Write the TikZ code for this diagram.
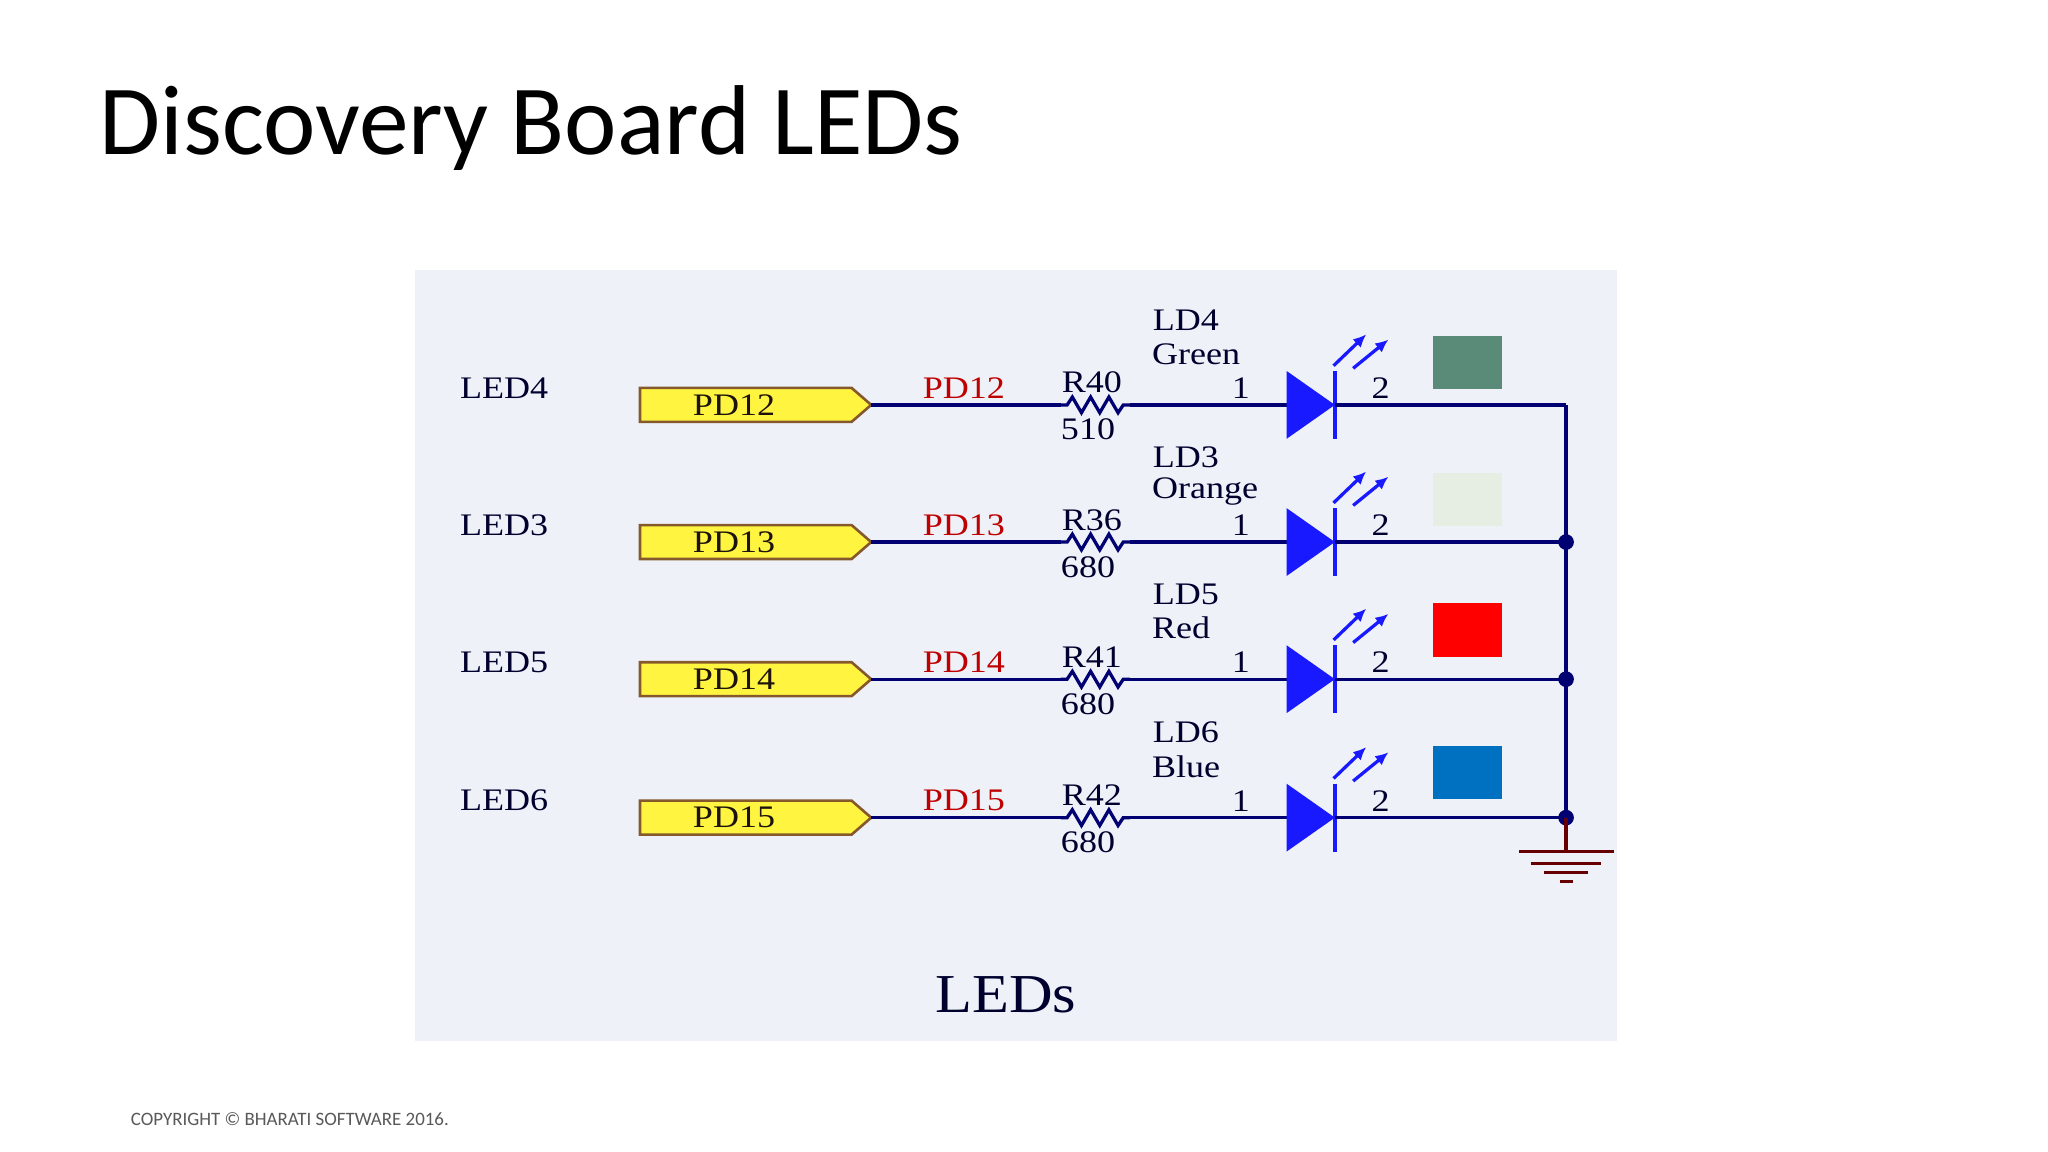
\documentclass[tikz,border=0pt]{standalone}
\usepackage{fontspec}
\usetikzlibrary{arrows.meta}
\setmainfont{Liberation Serif}
\newfontfamily\titlefont{Carlito}
\definecolor{ledgreen}{HTML}{5A8A78}
\definecolor{ledorange}{HTML}{E6EDE2}
\definecolor{ledblue}{HTML}{0070C0}
\definecolor{panel}{HTML}{EEF1F8}
\begin{document}
\begin{tikzpicture}[x=1pt,y=-1pt,
  sch/.style={font=\fontsize{24}{24}\selectfont,xscale=1.15},
  navy/.style={text=black!70!blue!60!black},
  pdred/.style={text=red!75!black},
  wire/.style={draw=blue!45!black,line width=2.5pt},
  tag/.style={draw=brown!70!black,fill=yellow!75,line width=2pt},
  dot/.style={circle,fill=blue!45!black,inner sep=0pt,minimum size=12pt},
  diode/.style={fill=blue!90!white,draw=none},
  lightarr/.style={draw=blue!90!white,line width=2.5pt,-{Latex[length=10pt,width=9pt]}}
]
\useasboundingbox (0,0) rectangle (1568,882);
\fill[white] (0,0) rectangle (1568,882);
\fill[panel] (318,207) rectangle (1238,797);
\node[anchor=base west,inner sep=0pt,font=\titlefont\fontsize{76}{76}\selectfont] (title) at (76,118) {Discovery Board LEDs};
\node[anchor=base west,inner sep=0pt,text=black!65,font=\titlefont\fontsize{14.5}{14.5}\selectfont] (copy) at (100,862) {COPYRIGHT © BHARATI SOFTWARE 2016.};
\node[font=\fontsize{42}{42}\selectfont,xscale=1.1,text=black!70!blue!60!black] (leds) at (770,762) {LEDs};
\coordinate (bustop) at (1199,310);
\foreach \y/\led/\pd/\r/\v/\ld/\col [count=\i] in
  {310/LED4/PD12/R40/510/LD4/Green,
   415/LED3/PD13/R36/680/LD3/Orange,
   520/LED5/PD14/R41/680/LD5/Red,
   626/LED6/PD15/R42/680/LD6/Blue}{
  \node[sch,navy] (led\i) at (386,\y-13) {\led};
  \draw[tag] (490,\y-13) -- (652,\y-13) -- (667,\y) -- (652,\y+13) -- (490,\y+13) -- cycle;
  \node[sch,text=black!85!brown] (tag\i) at (562,\y) {\pd};
  \coordinate (tip\i) at (667,\y);
  \node[sch,pdred] (pd\i) at (738,\y-13) {\pd};
  \node[sch,navy] (r\i) at (836,\y-17) {\r};
  \node[sch,navy] (v\i) at (833,\y+19) {\v};
  \node[sch,navy] (ld\i) at (908,\y-65) {\ld};
  \node[sch,navy,anchor=west] (c\i) at (878,\y-39) {\col};
  \node[sch,navy] (one\i) at (950,\y-13) {1};
  \node[sch,navy] (two\i) at (1057,\y-13) {2};
  \coordinate (ra\i) at (812,\y);
  \coordinate (rb\i) at (865,\y);
  \coordinate (da\i) at (985,\y);
  \coordinate (dk\i) at (1022,\y);
  \coordinate (bus\i) at (1199,\y);
  \draw[wire] (tip\i) -- (ra\i);
  \draw[wire] (ra\i) -- ++(5,0) -- ++(4,-6) -- ++(7,12) -- ++(7,-12) -- ++(7,12) -- ++(7,-12) -- ++(7,12) -- ++(4,-6) -- (rb\i);
  \draw[wire] (rb\i) -- (da\i);
  \fill[diode] (985,\y-26) -- (1022,\y) -- (985,\y+26) -- cycle;
  \draw[blue!90!white,line width=3pt] (1022,\y-26) -- (1022,\y+26);
  \draw[wire] (dk\i) -- (bus\i);
  \draw[lightarr] (1021,\y-30) -- (1046,\y-54);
  \draw[lightarr] (1036,\y-28) -- (1063,\y-50);
}
\fill[ledgreen] (1097,257) rectangle (1150,298);
\fill[ledorange] (1097,362) rectangle (1150,403);
\fill[red] (1097,462) rectangle (1150,503);
\fill[ledblue] (1097,571) rectangle (1150,612);
\coordinate (gnd) at (1199,652);
\draw[wire] (bustop) -- (bus4);
\node[dot] at (bus2) {};
\node[dot] at (bus3) {};
\node[dot] at (bus4) {};
\draw[red!40!black,line width=2.5pt] (bus4) -- (gnd);
\draw[red!40!black,line width=2.5pt] (1163,652) -- (1236,652) (1172,661) -- (1226,661) (1182,668) -- (1216,668) (1194,675) -- (1204,675);
\end{tikzpicture}
\end{document}
